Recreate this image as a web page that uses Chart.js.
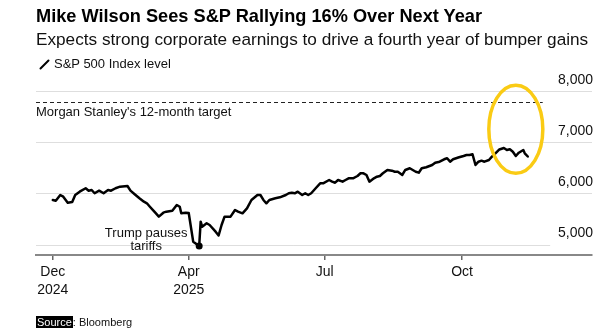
<!DOCTYPE html>
<html>
<head>
<meta charset="utf-8">
<script src="https://cdn.jsdelivr.net/npm/chart.js@4.4.1/dist/chart.umd.min.js"></script>
<style>
  body { margin: 0; background: #fff; }
  #wrap { position: relative; width: 616px; height: 330px; overflow: hidden; font-family: "Liberation Sans", Arial, sans-serif; color: #000; }
  #wrap canvas { position: absolute; left: 0; top: 0; }
  .txt { position: absolute; left: 36px; white-space: nowrap; transform-origin: 0 0; }
  #title { top: 7px; font-size: 18.2px; line-height: 18px; font-weight: bold; }
  #sub { top: 31px; font-size: 17.2px; line-height: 17px; color: #111; }
  #leg { top: 57px; left: 54px; font-size: 13px; line-height: 13px; color: #111; }
  #legIcon { position: absolute; left: 39px; top: 59px; }
  #src { top: 316px; font-size: 11px; line-height: 13px; color: #111; }
  #src b { font-weight: normal; background: #000; color: #fff; padding: 0 1px; }
</style>
</head>
<body>
<div id="wrap">
  <canvas id="chart" width="616" height="330"></canvas>
  <div class="txt" id="title">Mike Wilson Sees S&amp;P Rallying 16% Over Next Year</div>
  <div class="txt" id="sub">Expects strong corporate earnings to drive a fourth year of bumper gains</div>
  <svg id="legIcon" width="12" height="11"><line x1="1.5" y1="9.5" x2="9.5" y2="1.5" stroke="#000" stroke-width="2" stroke-linecap="round"/></svg>
  <div class="txt" id="leg">S&amp;P 500 Index level</div>
  <div class="txt" id="src"><b>Source</b>: Bloomberg</div>
</div>
<script>
// S&P 500 level (days counted from 31 Dec 2024)
const dayOffsets = [
  0, 2, 5, 7, 10, 13, 15, 18, 22, 24, 26, 28, 31, 34, 37, 39, 42, 45, 50, 52,
  55, 58, 61, 63, 65, 68, 71, 74, 76, 80, 83, 85, 86, 89, 91, 94, 98, 99, 100, 103,
  105, 109, 111, 113, 115, 119, 122, 124, 127, 130, 133, 137, 139, 141, 143, 145, 149, 152, 156, 158,
  160, 162, 164, 167, 169, 171, 173, 176, 179, 181, 185, 187, 189, 191, 194, 196, 198, 201, 204, 206,
  208, 210, 212, 215, 217, 219, 221, 224, 227, 229, 231, 234, 236, 239, 243, 245, 247, 250, 254, 256,
  259, 262, 264, 266, 268, 272, 275, 277, 279, 281, 283, 285, 287, 289, 292, 294, 296, 299, 302, 304,
  306, 308, 310, 312, 315, 316, 318
];
const indexLevels = [
  5881, 5867, 5978, 5945, 5828, 5841, 5978, 6043, 6110, 6063, 6076, 6012, 6063, 6012, 6076, 6063, 6110, 6141, 6155, 6063,
  5988, 5914, 5847, 5816, 5749, 5652, 5554, 5632, 5652, 5671, 5783, 5749, 5620, 5632, 5626, 5065, 4980, 5456, 5358, 5425,
  5391, 5260, 5186, 5391, 5554, 5554, 5685, 5652, 5620, 5718, 5881, 5978, 5978, 5881, 5816, 5881, 5914, 5933, 5978, 6012,
  6023, 6012, 6043, 5978, 6012, 5978, 6012, 6110, 6207, 6207, 6272, 6239, 6219, 6272, 6239, 6272, 6305, 6305, 6350, 6403,
  6403, 6370, 6239, 6305, 6337, 6350, 6403, 6468, 6454, 6434, 6434, 6370, 6468, 6501, 6434, 6415, 6501, 6521, 6566, 6611,
  6630, 6677, 6697, 6630, 6677, 6716, 6742, 6761, 6761, 6775, 6566, 6630, 6650, 6630, 6663, 6728, 6781, 6869, 6898, 6859,
  6873, 6826, 6742, 6806, 6859, 6794, 6732
];

const xTickDays = [0, 91, 182, 274];
const xTickLabels = [['Dec', '2024'], ['Apr', '2025'], ['Jul'], ['Oct']];
const yTickValues = [5000, 6000, 7000, 8000];

const targetLevel = 7800;
const targetEndDay = 328;
const targetText = "Morgan Stanley's 12-month target";
const lowNote = ['Trump pauses', 'tariffs'];
const shortGridValue = 5000;
const shortGridEndDay = 333;
const circleCenter = { day: 310, level: 7266 };

const lowIndex = indexLevels.indexOf(Math.min(...indexLevels));
const FONT = "'Liberation Sans', Arial, sans-serif";

const notes = {
  id: 'notes',
  beforeDatasetsDraw(chart) {
    const { ctx, chartArea, scales: { x, y } } = chart;
    ctx.save();
    // 5,000 gridline stops short of its label
    ctx.strokeStyle = '#dedede';
    ctx.lineWidth = 1;
    const gy = Math.round(y.getPixelForValue(shortGridValue)) + 0.5;
    ctx.beginPath();
    ctx.moveTo(chartArea.left, gy);
    ctx.lineTo(x.getPixelForValue(shortGridEndDay), gy);
    ctx.stroke();

    // target line
    const ty = Math.round(y.getPixelForValue(targetLevel)) + 0.5;
    ctx.strokeStyle = '#222';
    ctx.lineWidth = 1.2;
    ctx.setLineDash([4, 3]);
    ctx.beginPath();
    ctx.moveTo(chartArea.left, ty);
    ctx.lineTo(x.getPixelForValue(targetEndDay), ty);
    ctx.stroke();
    ctx.setLineDash([]);

    ctx.fillStyle = '#111';
    ctx.font = `13px ${FONT}`;
    ctx.textBaseline = 'middle';
    ctx.textAlign = 'left';
    ctx.fillText(targetText, chartArea.left, ty + 9.5);

    // annotation for the April low
    const lx = x.getPixelForValue(dayOffsets[lowIndex]);
    const ly = y.getPixelForValue(indexLevels[lowIndex]);
    ctx.textAlign = 'center';
    ctx.fillText(lowNote[0], lx - 53, ly - 13);
    ctx.fillText(lowNote[1], lx - 53, ly);
    ctx.restore();
  },
  afterDatasetsDraw(chart) {
    const { ctx, scales: { x, y } } = chart;
    ctx.save();
    ctx.strokeStyle = '#FACB14';
    ctx.lineWidth = 3.5;
    ctx.beginPath();
    ctx.ellipse(x.getPixelForValue(circleCenter.day), y.getPixelForValue(circleCenter.level), 27, 44, 0, 0, Math.PI * 2);
    ctx.stroke();
    ctx.restore();
  }
};

new Chart(document.getElementById('chart'), {
  type: 'line',
  data: {
    datasets: [{
      label: 'S&P 500 Index level',
      data: dayOffsets.map((d, i) => ({ x: d, y: indexLevels[i] })),
      borderColor: '#000',
      borderWidth: 2.5,
      borderJoinStyle: 'round',
      borderCapStyle: 'round',
      tension: 0,
      pointRadius: ctx => ctx.dataIndex === lowIndex ? 3.5 : 0,
      pointBackgroundColor: '#000',
      pointBorderWidth: 0,
    }]
  },
  options: {
    responsive: false,
    animation: false,
    events: [],
    layout: { padding: { left: 36, right: 24, top: 85, bottom: 0 } },
    plugins: { legend: { display: false }, tooltip: { enabled: false } },
    scales: {
      x: {
        type: 'linear',
        min: -11.25,
        max: 361,
        afterBuildTicks: s => { s.ticks = xTickDays.map(v => ({ value: v })); },
        afterFit: s => { s.height = 75; },
        grid: { drawOnChartArea: false, drawTicks: true, tickLength: 5, color: '#666', lineWidth: 1.5 },
        border: { display: true, color: '#888', width: 2 },
        ticks: {
          autoSkip: false,
          maxRotation: 0,
          padding: 3,
          color: '#111',
          font: { family: FONT, size: 14, lineHeight: 1.3 },
          callback: (v, i) => xTickLabels[i]
        }
      },
      y: {
        position: 'right',
        min: 4804,
        max: 8131,
        afterBuildTicks: s => { s.ticks = yTickValues.map(v => ({ value: v })); },
        afterFit: s => { s.width = 0; },
        grid: {
          drawTicks: false,
          lineWidth: 1,
          color: ctx => ctx.tick && ctx.tick.value === shortGridValue ? 'rgba(0,0,0,0)' : '#dedede'
        },
        border: { display: false },
        ticks: {
          mirror: true,
          padding: 1,
          labelOffset: -12,
          color: '#111',
          font: { family: FONT, size: 14 },
          callback: v => v.toLocaleString('en-US')
        }
      }
    }
  },
  plugins: [notes]
});
</script>
</body>
</html>
